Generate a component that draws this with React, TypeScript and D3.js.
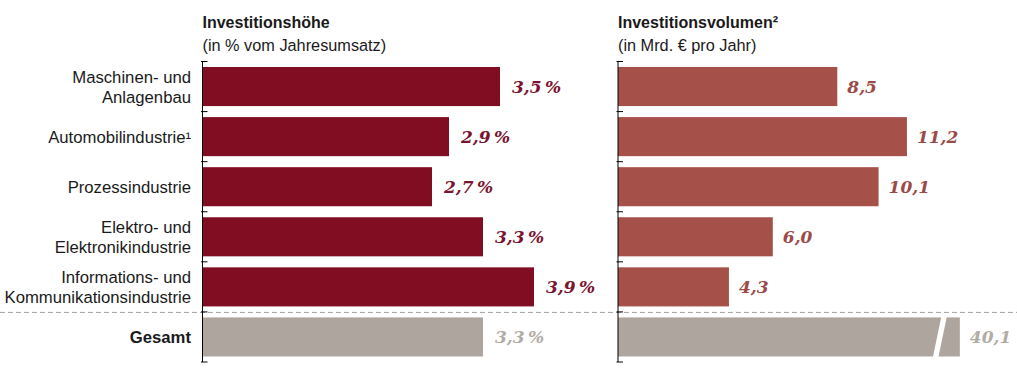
import React from "react";
import * as d3 from "d3";

const categories: string[][] = [
  ["Maschinen- und", "Anlagenbau"],
  ["Automobilindustrie¹"],
  ["Prozessindustrie"],
  ["Elektro- und", "Elektronikindustrie"],
  ["Informations- und", "Kommunikationsindustrie"],
  ["Gesamt"],
];
const investitionshoehe: number[] = [3.5, 2.9, 2.7, 3.3, 3.9, 3.3];
const investitionsvolumen: number[] = [8.5, 11.2, 10.1, 6.0, 4.3, 40.1];
const leftTitle = "Investitionshöhe";
const leftSubtitle = "(in % vom Jahresumsatz)";
const rightTitle = "Investitionsvolumen²";
const rightSubtitle = "(in Mrd. € pro Jahr)";
const volumeDisplayCap = 13.25; // broken-axis display value for totals beyond range

const W = 1017;
const H = 373;
const COL_LEFT = "#800d22";
const COL_RIGHT = "#a5514a";
const COL_GRAY = "#aea69e";
const LAB_LEFT = "#7b1430";
const LAB_RIGHT = "#9c4a48";
const LAB_GRAY = "#b2aca6";

const fmt = (v: number) => v.toFixed(1).replace(".", ",");

export default function App() {
  const ids = categories.map((_, i) => String(i));
  const y = d3
    .scaleBand<string>()
    .domain(ids)
    .range([61.5, 362])
    .paddingInner(0.22)
    .paddingOuter(0.11);
  const step = y.step();
  const y0 = 61.5;
  const boundaries = d3.range(categories.length + 1).map((i) => y0 + i * step);

  const xL = d3.scaleLinear().domain([0, 4]).range([202.5, 542.5]);
  const xR = d3.scaleLinear().domain([0, 13]).range([618, 618 + 13 * 25.8]);

  const sans = "'Liberation Sans', Arial, Helvetica, sans-serif";
  const serif = "'DejaVu Serif', Georgia, serif";
  const last = categories.length - 1;

  return (
    <svg
      width={W}
      height={H}
      style={{ position: "absolute", left: 0, top: 0, background: "#fff" }}
      fontFamily={sans}
    >
      {/* titles */}
      <text x={xL(0)} y={28} fontSize={16} fontWeight="bold" fill="#1a1a1a">
        {leftTitle}
      </text>
      <text x={xL(0)} y={50.5} fontSize={16.3} fill="#1a1a1a">
        {leftSubtitle}
      </text>
      <text x={xR(0)} y={28} fontSize={16} fontWeight="bold" fill="#1a1a1a">
        {rightTitle}
      </text>
      <text x={xR(0)} y={50.5} fontSize={16.3} fill="#1a1a1a">
        {rightSubtitle}
      </text>

      {/* category labels */}
      {categories.map((lines, i) => {
        const c = (y(String(i)) as number) + y.bandwidth() / 2;
        const startY = lines.length === 1 ? c + 6.3 : c - 3.8;
        return (
          <text
            key={"c" + i}
            x={191}
            textAnchor="end"
            fontSize={16.7}
            fill="#1a1a1a"
            fontWeight={i === last ? "bold" : "normal"}
          >
            {lines.map((l, j) => (
              <tspan key={j} x={191} y={startY + j * 20}>
                {l}
              </tspan>
            ))}
          </text>
        );
      })}

      {/* dashed separator */}
      <line
        x1={0}
        x2={W}
        y1={boundaries[last] + 0.5}
        y2={boundaries[last] + 0.5}
        stroke="#a3a3a3"
        strokeDasharray="5,3"
        strokeWidth={1}
      />

      {/* left bars */}
      {investitionshoehe.map((v, i) => {
        const yy = y(String(i)) as number;
        const gray = i === last;
        return (
          <g key={"l" + i}>
            <rect
              x={xL(0)}
              y={yy}
              width={xL(v) - xL(0)}
              height={y.bandwidth()}
              fill={gray ? COL_GRAY : COL_LEFT}
            />
            <text
              x={xL(v) + 12}
              y={yy + y.bandwidth() / 2 + 6.5}
              fontFamily={serif}
              fontStyle="italic"
              fontWeight="bold"
              fontSize={17}
              fill={gray ? LAB_GRAY : LAB_LEFT}
            >
              {fmt(v) + "\u202F%"}
            </text>
          </g>
        );
      })}

      {/* right bars */}
      {investitionsvolumen.map((v, i) => {
        const yy = y(String(i)) as number;
        const gray = i === last;
        const shown = Math.min(v, volumeDisplayCap);
        const end = xR(shown);
        const bh = y.bandwidth();
        return (
          <g key={"r" + i}>
            <rect
              x={xR(0)}
              y={yy}
              width={end - xR(0)}
              height={bh}
              fill={gray ? COL_GRAY : COL_RIGHT}
            />
            {v > volumeDisplayCap && (
              <polygon
                points={[
                  [end - 18.5, yy - 1],
                  [end - 13, yy - 1],
                  [end - 21.5, yy + bh + 1],
                  [end - 27, yy + bh + 1],
                ]
                  .map((p) => p.join(","))
                  .join(" ")}
                fill="#fff"
              />
            )}
            <text
              x={end + 10}
              y={yy + bh / 2 + 6.5}
              fontFamily={serif}
              fontStyle="italic"
              fontWeight="bold"
              fontSize={17}
              fill={gray ? LAB_GRAY : LAB_RIGHT}
            >
              {fmt(v)}
            </text>
          </g>
        );
      })}

      {/* axes */}
      {[xL(0), xR(0)].map((ax, k) => (
        <g key={"ax" + k}>
          <line x1={ax} x2={ax} y1={boundaries[0]} y2={boundaries[boundaries.length - 1]} stroke="#000" strokeWidth={1} />
          {boundaries.map((b, j) => (
            <line key={j} x1={ax - 1.5} x2={ax + 5} y1={b} y2={b} stroke="#000" strokeWidth={1} />
          ))}
        </g>
      ))}
    </svg>
  );
}
